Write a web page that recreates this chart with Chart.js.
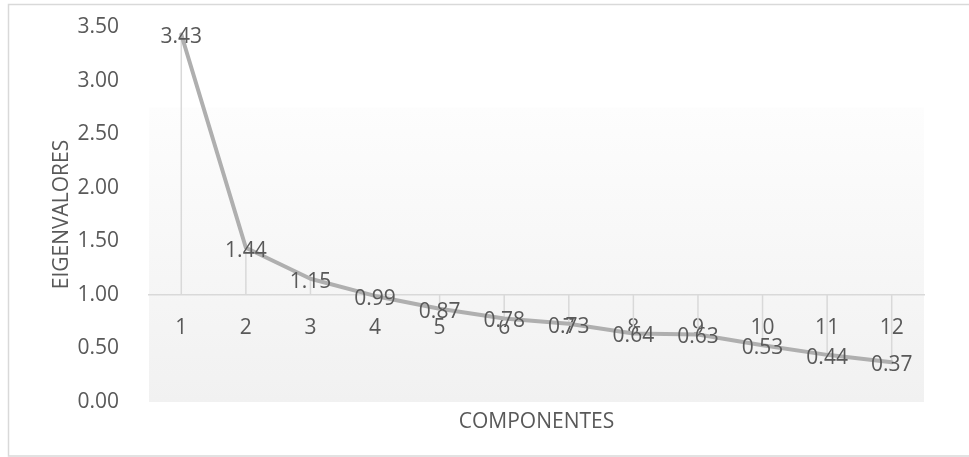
<!DOCTYPE html>
<html>
<head>
<meta charset="utf-8">
<title>Eigenvalores por componente</title>
<script src="https://cdn.jsdelivr.net/npm/chart.js@4.4.1/dist/chart.umd.min.js"></script>
<style>
  html, body { margin: 0; padding: 0; background: #ffffff; }
  #wrap { position: relative; width: 969px; height: 457px; }
</style>
</head>
<body>
<div id="wrap"><canvas id="scree" width="969" height="457"></canvas></div>
<script>
// Scree plot data
const componentes = ['1', '2', '3', '4', '5', '6', '7', '8', '9', '10', '11', '12'];
const eigenvalores = [3.43, 1.44, 1.15, 0.99, 0.87, 0.78, 0.73, 0.64, 0.63, 0.53, 0.44, 0.37];
const yTicks = [0, 0.5, 1, 1.5, 2, 2.5, 3, 3.5];
const axisCross = 1;       // category axis crosses the value axis here
const fillTopValue = 2.75; // top edge of the shaded plot panel

const TEXT = '#595959';
const FONT = { family: "'Open Sans', 'DejaVu Sans', sans-serif", size: 21 };

// Outer frame, shaded panel, drop lines and value labels
const decorations = {
  id: 'decorations',
  beforeDraw(chart) {
    const { ctx, chartArea: a, scales: { y } } = chart;
    ctx.save();
    ctx.fillStyle = '#ffffff';
    ctx.fillRect(0, 0, chart.width, chart.height);
    const top = y.getPixelForValue(fillTopValue);
    const bottom = y.getPixelForValue(0);
    const g = ctx.createLinearGradient(0, top, 0, bottom);
    g.addColorStop(0, '#fdfdfd');
    g.addColorStop(1, '#f1f1f1');
    ctx.fillStyle = g;
    ctx.fillRect(a.left, top, a.right - a.left, bottom - top);
    ctx.strokeStyle = '#d9d9d9';
    ctx.lineWidth = 1.5;
    ctx.strokeRect(8.5, 4.5, chart.width + 20, chart.height - 5.5);
    ctx.restore();
  },
  beforeDatasetsDraw(chart) {
    const { ctx, scales: { y } } = chart;
    const base = y.getPixelForValue(axisCross);
    const meta = chart.getDatasetMeta(0);
    ctx.save();
    ctx.strokeStyle = '#d9d9d9';
    ctx.lineWidth = 1.5;
    meta.data.forEach(pt => {
      ctx.beginPath();
      ctx.moveTo(pt.x, base);
      ctx.lineTo(pt.x, pt.y);
      ctx.stroke();
    });
    ctx.restore();
  },
  afterDatasetsDraw(chart) {
    const { ctx } = chart;
    const meta = chart.getDatasetMeta(0);
    const values = chart.data.datasets[0].data;
    ctx.save();
    ctx.fillStyle = TEXT;
    ctx.font = `${FONT.size}px ${FONT.family}`;
    ctx.textAlign = 'center';
    ctx.textBaseline = 'middle';
    meta.data.forEach((pt, i) => {
      ctx.fillText(values[i].toFixed(2), pt.x, pt.y + 3);
    });
    ctx.restore();
  }
};

new Chart(document.getElementById('scree'), {
  type: 'line',
  data: {
    labels: componentes,
    datasets: [{
      data: eigenvalores,
      borderColor: '#afafaf',
      borderWidth: 4,
      borderJoinStyle: 'round',
      borderCapStyle: 'round',
      pointRadius: 0,
      tension: 0,
      fill: false
    }]
  },
  options: {
    responsive: false,
    animation: false,
    events: [],
    layout: { padding: { top: 27, right: 45, bottom: 0, left: 0 } },
    plugins: { legend: { display: false }, tooltip: { enabled: false } },
    scales: {
      y: {
        position: 'left',
        min: 0,
        max: 3.5,
        afterBuildTicks(scale) { scale.ticks = yTicks.map(v => ({ value: v })); },
        afterFit(scale) {
          scale.width = 149;
          // only half a label of overhang is needed above and below the axis
          scale.paddingTop = 13;
          scale.paddingBottom = 13;
        },
        grid: { display: false },
        border: { display: false },
        ticks: {
          padding: 22,
          color: TEXT,
          font: FONT,
          callback: v => Number(v).toFixed(2)
        },
        title: {
          display: true,
          text: 'EIGENVALORES',
          color: TEXT,
          font: FONT,
          padding: { top: 49, bottom: 0 }
        }
      },
      x: {
        type: 'category',
        position: { y: axisCross },
        offset: true,
        grid: { display: false },
        border: { display: true, color: '#d9d9d9', width: 1.5 },
        ticks: { padding: 13, color: TEXT, font: FONT, maxRotation: 0, autoSkip: false }
      },
      xTitle: {
        type: 'category',
        position: 'bottom',
        offset: true,
        afterFit(scale) { scale.height = 55; },
        grid: { display: false },
        border: { display: false },
        ticks: { display: false },
        title: {
          display: true,
          text: 'COMPONENTES',
          color: TEXT,
          font: FONT,
          padding: { top: 0, bottom: 22 }
        }
      }
    }
  },
  plugins: [decorations]
});
</script>
</body>
</html>
